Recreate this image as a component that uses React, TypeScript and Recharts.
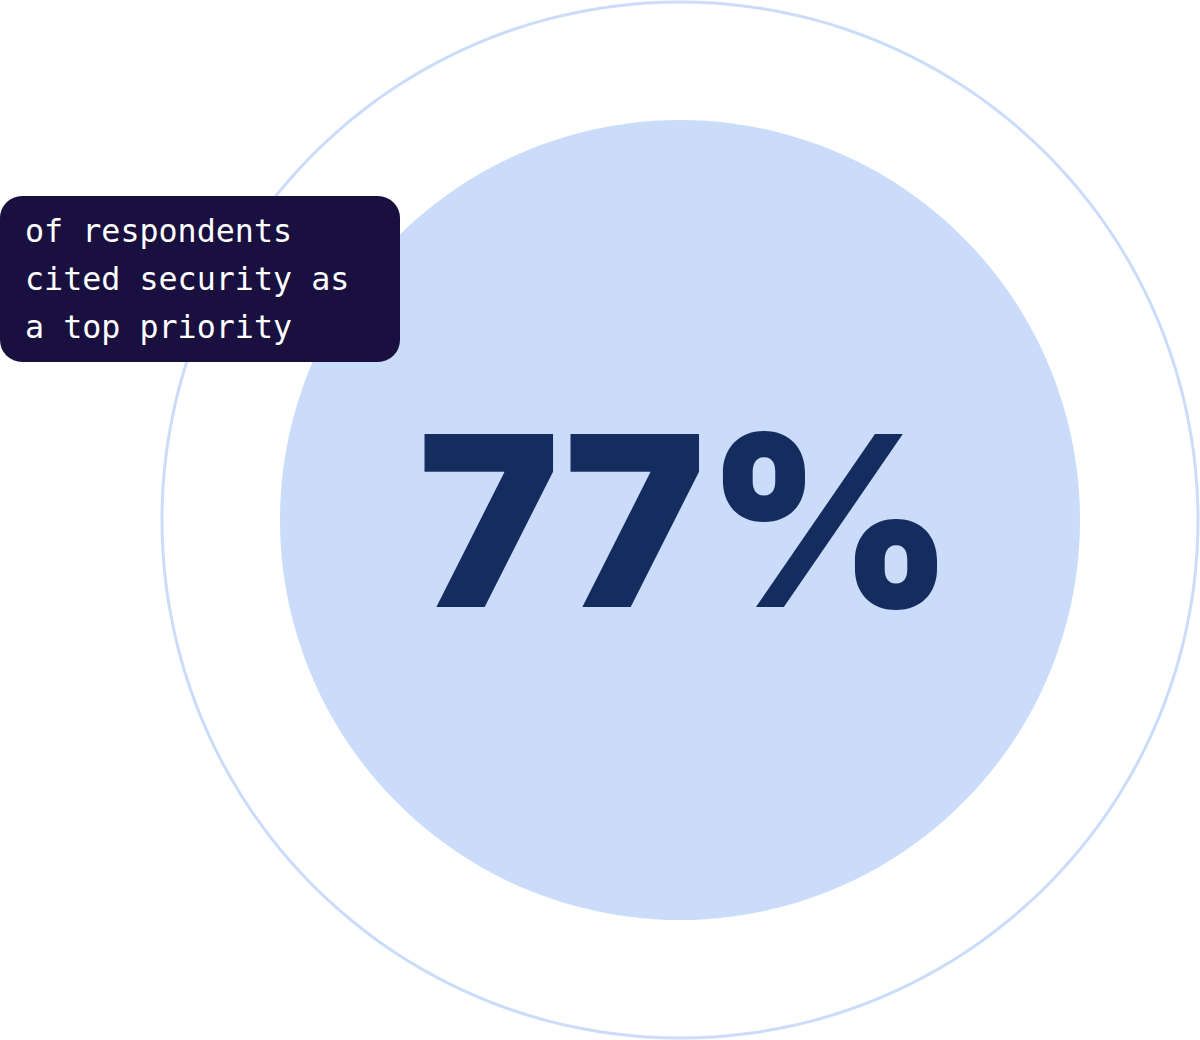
import { PieChart, Pie, Label } from 'recharts'

const share = 77
const caption = ['of respondents', 'cited security as', 'a top priority']
const ring = [{ name: 'all respondents', value: 100 }]
const disc = [{ name: 'security', value: 100 }]

const NAVY = '#152c5e'
const PALE = '#cbdcfb'

export default function App() {
  return (
    <div style={{ position: 'absolute', left: 0, top: 0, width: 1200, height: 1040, background: '#fff' }}>
      <PieChart width={1200} height={1040} margin={{ top: 0, right: 0, bottom: 0, left: 0 }}>
        <Pie
          data={ring}
          dataKey="value"
          cx={680}
          cy={520}
          innerRadius={516.5}
          outerRadius={519.5}
          fill={PALE}
          stroke="none"
          isAnimationActive={false}
        />
        <Pie
          data={disc}
          dataKey="value"
          cx={680}
          cy={520}
          outerRadius={400}
          fill={PALE}
          stroke="none"
          isAnimationActive={false}
        >
          <Label
            position="center"
            content={() => (
              <text
                x={686}
                y={607}
                textAnchor="middle"
                fill={NAVY}
                style={{ fontFamily: 'Inter', fontWeight: 900, fontSize: 238 }}
              >
                {`${share}%`}
              </text>
            )}
          />
        </Pie>
      </PieChart>
      <div
        style={{
          position: 'absolute',
          left: 0,
          top: 196,
          width: 400,
          height: 166,
          background: '#191040',
          borderRadius: 22,
          color: '#fff',
          fontFamily: '"DejaVu Sans Mono", monospace',
          fontSize: 31.7,
          lineHeight: '48px',
          padding: '11px 0 0 25px',
          boxSizing: 'border-box',
        }}
      >
        {caption.map((line) => (
          <div key={line} style={{ whiteSpace: 'pre' }}>{line}</div>
        ))}
      </div>
    </div>
  )
}
